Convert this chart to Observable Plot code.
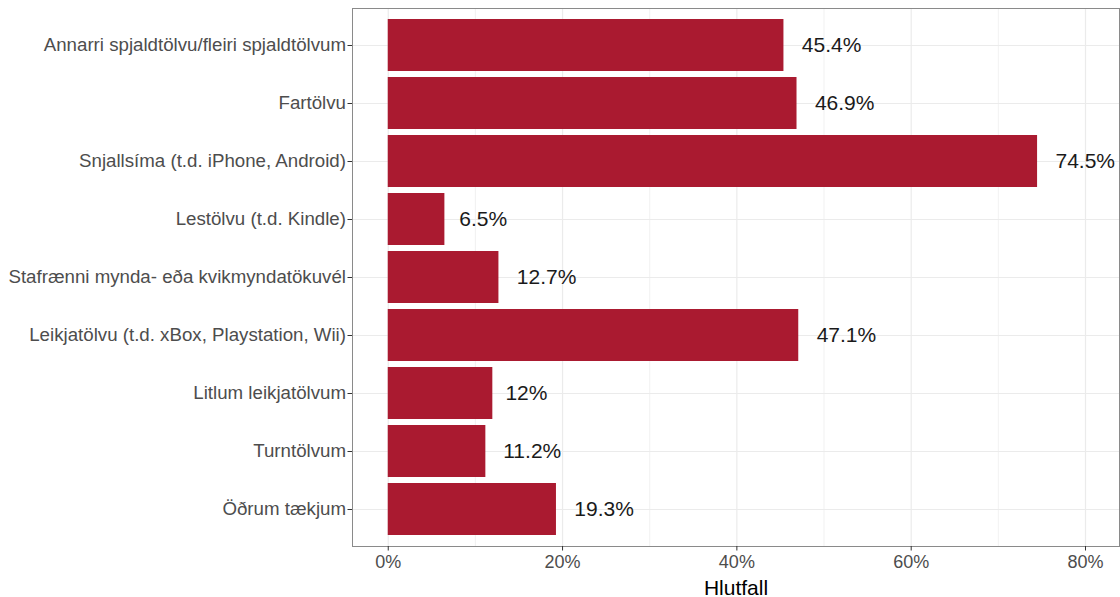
<!DOCTYPE html>
<html>
<head>
<meta charset="utf-8">
<script src="https://cdn.jsdelivr.net/npm/d3@7"></script>
<script src="https://cdn.jsdelivr.net/npm/@observablehq/plot@0.6"></script>
<style>
  html, body { margin: 0; padding: 0; background: #fff; }
</style>
</head>
<body>
<script>
const categories = [
  "Annarri spjaldtölvu/fleiri spjaldtölvum",
  "Fartölvu",
  "Snjallsíma (t.d. iPhone, Android)",
  "Lestölvu (t.d. Kindle)",
  "Stafrænni mynda- eða kvikmyndatökuvél",
  "Leikjatölvu (t.d. xBox, Playstation, Wii)",
  "Litlum leikjatölvum",
  "Turntölvum",
  "Öðrum tækjum"
];
const values = [45.4, 46.9, 74.5, 6.5, 12.7, 47.1, 12, 11.2, 19.3];
const valueLabels = ["45.4%", "46.9%", "74.5%", "6.5%", "12.7%", "47.1%", "12%", "11.2%", "19.3%"];
const majorTicks = [0, 20, 40, 60, 80];
const minorTicks = [10, 30, 50, 70];
const tickLabels = ["0%", "20%", "40%", "60%", "80%"];
const xTitle = "Hlutfall";

const data = categories.map((c, i) => ({cat: c, value: values[i], label: valueLabels[i]}));

const chart = Plot.plot({
  width: 1120,
  height: 597,
  marginLeft: 352,
  marginRight: 1,
  marginTop: 8,
  marginBottom: 51,
  style: {fontFamily: "'Liberation Sans', Arial, Helvetica, sans-serif", background: "#fff"},
  x: {domain: [-4.1, 83.9]},
  y: {type: "band", domain: categories, paddingInner: 0.1, paddingOuter: 0.15},
  marks: [
    Plot.ruleX(minorTicks, {stroke: "#ebebeb", strokeWidth: 0.7}),
    Plot.ruleX(majorTicks, {stroke: "#ebebeb", strokeWidth: 1.2}),
    Plot.gridY({stroke: "#ebebeb", strokeOpacity: 1, strokeWidth: 1.2}),
    Plot.barX(data, {x: "value", y: "cat", fill: "#aa1a30"}),
    Plot.text(data, {x: "value", y: "cat", text: "label", textAnchor: "start", fontSize: 21, fill: "#1a1a1a", className: "vlabel"}),
    Plot.frame({stroke: "#8a8a8a", strokeWidth: 1}),
    Plot.axisY({tickSize: 4.5, tickPadding: 2, fontSize: 18.7, color: "#4d4d4d", stroke: "#333", label: null}),
    Plot.axisX(majorTicks, {tickSize: 4.5, tickPadding: 4, fontSize: 18, color: "#4d4d4d", stroke: "#333", label: null,
      tickFormat: (d, i) => tickLabels[majorTicks.indexOf(d)]}),
    Plot.axisX([], {label: xTitle, labelAnchor: "center", labelArrow: "none", fontSize: 21, fill: "#000", tickSize: 0})
  ]
});
document.body.append(chart);
// offset value labels proportional to their rendered width (ggplot hjust-like)
chart.querySelectorAll("g.vlabel text, .vlabel text").forEach(t => {
  const w = t.getComputedTextLength();
  t.setAttribute("dx", (0.3 * w).toFixed(1));
});
</script>
</body>
</html>
